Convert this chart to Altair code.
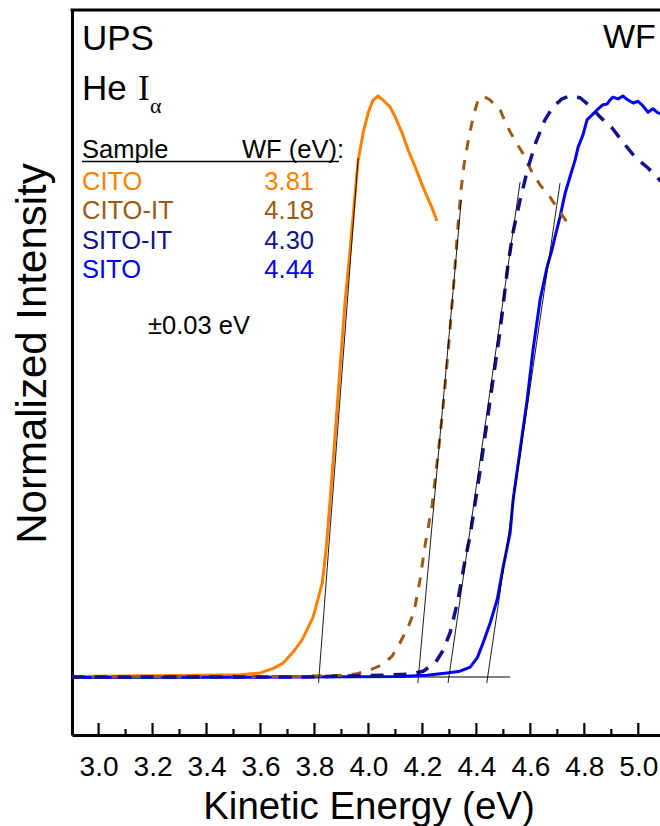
import altair as alt
import pandas as pd

# ---------------- data ----------------
cito_e = [2.90, 3.191, 3.377, 3.525, 3.599, 3.647, 3.684, 3.721, 3.754, 3.795, 3.829, 3.843,
          3.858, 3.877, 3.895, 3.914, 3.932, 3.943, 3.962, 3.980, 3.999, 4.017, 4.036, 4.054,
          4.080, 4.099, 4.125, 4.147, 4.173, 4.199, 4.218, 4.236, 4.254]
cito_i = [0.001, 0.002, 0.003, 0.004, 0.007, 0.015, 0.024, 0.043, 0.064, 0.103, 0.162, 0.219,
          0.305, 0.420, 0.534, 0.649, 0.735, 0.792, 0.890, 0.936, 0.971, 0.993, 1.000, 0.993,
          0.981, 0.964, 0.936, 0.907, 0.878, 0.847, 0.826, 0.807, 0.785]

citoit_e = [2.90, 3.747, 3.895, 3.951, 4.006, 4.051, 4.088, 4.117, 4.147, 4.169, 4.191, 4.210,
            4.236, 4.251, 4.266, 4.280, 4.299, 4.317, 4.332, 4.343, 4.354, 4.369, 4.388, 4.406,
            4.425, 4.451, 4.488, 4.514, 4.543, 4.569, 4.606, 4.636, 4.673, 4.710, 4.747]
citoit_i = [0.000, 0.001, 0.003, 0.005, 0.012, 0.021, 0.036, 0.059, 0.086, 0.112, 0.167, 0.227,
            0.296, 0.356, 0.417, 0.482, 0.580, 0.683, 0.778, 0.838, 0.881, 0.921, 0.964, 0.993,
            1.000, 0.993, 0.976, 0.948, 0.923, 0.904, 0.869, 0.847, 0.826, 0.800, 0.775]

sitoit_e = [2.90, 3.747, 4.043, 4.154, 4.203, 4.247, 4.277, 4.303, 4.332, 4.358, 4.377, 4.414,
            4.451, 4.488, 4.517, 4.536, 4.562, 4.591, 4.621, 4.654, 4.684, 4.717, 4.747, 4.784,
            4.821, 4.858, 4.903, 4.951, 4.988, 5.036, 5.080, 5.125]
sitoit_i = [0.000, 0.000, 0.003, 0.005, 0.010, 0.024, 0.046, 0.077, 0.133, 0.201, 0.244, 0.356,
            0.477, 0.597, 0.709, 0.766, 0.821, 0.876, 0.921, 0.959, 0.981, 0.995, 1.000, 0.997,
            0.983, 0.964, 0.945, 0.916, 0.895, 0.876, 0.855, 0.835]

sito_e = [2.90, 3.747, 4.117, 4.217, 4.291, 4.339, 4.377, 4.403, 4.425, 4.451, 4.477, 4.499,
          4.525, 4.536, 4.562, 4.588, 4.610, 4.636, 4.662, 4.680, 4.691, 4.710, 4.729, 4.747,
          4.766, 4.777, 4.795, 4.810, 4.828, 4.847, 4.869, 4.884, 4.895, 4.906, 4.925, 4.943,
          4.962, 4.981, 4.999, 5.017, 5.036, 5.054, 5.073, 5.099]
sito_i = [-0.001, 0.000, 0.001, 0.003, 0.007, 0.010, 0.017, 0.033, 0.059, 0.093, 0.133, 0.189,
          0.248, 0.305, 0.391, 0.477, 0.563, 0.649, 0.706, 0.735, 0.757, 0.792, 0.833, 0.861,
          0.890, 0.912, 0.933, 0.959, 0.967, 0.976, 0.985, 0.986, 0.993, 0.998, 0.995, 1.000,
          0.993, 0.988, 0.991, 0.983, 0.972, 0.978, 0.971, 0.967]

samples = ["CITO", "CITO-IT", "SITO-IT", "SITO"]
wf_labels = ["3.81", "4.18", "4.30", "4.44"]
sample_colors = ["#FF8000", "#9C5A14", "#12128C", "#0000FF"]

# linear fits of the leading edge (start and end points)
tan_e0 = [3.815, 4.183, 4.295, 4.4385]
tan_i0 = [-0.0103, -0.0103, -0.0103, -0.0103]
tan_e1 = [3.962, 4.344, 4.562, 4.710]
tan_i1 = [0.893, 0.821, 0.852, 0.850]

baseline_e = [2.90, 4.525]
baseline_i = [0.0, 0.0]

major_ticks = [3.0, 3.2, 3.4, 3.6, 3.8, 4.0, 4.2, 4.4, 4.6, 4.8, 5.0]
minor_ticks = [3.1, 3.3, 3.5, 3.7, 3.9, 4.1, 4.3, 4.5, 4.7, 4.9]

x_domain = [2.9015, 5.0804]
y_domain = [-0.0998, 1.148]

# ---------------- build ----------------
W, H = 588, 725
SANS = "Liberation Sans"
SERIF = "Liberation Serif"

xs = alt.Scale(domain=x_domain, nice=False, zero=False)
ys = alt.Scale(domain=y_domain, nice=False, zero=False)

xax = alt.Axis(values=major_ticks, format=".1f", ticks=False, tickSize=0, grid=False,
               domain=True, domainColor="black", domainWidth=3,
               labelFont=SANS, labelFontSize=28, labelColor="black",
               labelPadding=40, labelBaseline="alphabetic", labelFlush=False, labelOverlap=False,
               title="Kinetic Energy (eV)", titleFont=SANS, titleFontSize=38.5,
               titleFontWeight="normal", titleColor="black",
               titleX=296.5, titleY=83, titleBaseline="alphabetic", titleAlign="center")
yax = alt.Axis(labels=False, ticks=False, tickSize=0, grid=False,
               domain=True, domainColor="black", domainWidth=3,
               title="Normalized Intensity", titleFont=SANS, titleFontSize=42,
               titleFontWeight="normal", titleColor="black", titleAngle=270,
               titleX=-27, titleY=343, titleBaseline="alphabetic", titleAlign="center")

def curve(e, i):
    return pd.DataFrame({"E": e, "I": i})

def line_layer(df, color, dash=None, width=3):
    kw = dict(color=color, strokeWidth=width, clip=True, strokeCap="butt", strokeJoin="round")
    if dash:
        kw["strokeDash"] = dash
    return alt.Chart(df).mark_line(**kw).encode(
        x=alt.X("E:Q", scale=xs, axis=xax),
        y=alt.Y("I:Q", scale=ys, axis=yax),
    )

# baseline rule
base_df = pd.DataFrame({"E": baseline_e, "I": baseline_i})
base_layer = alt.Chart(base_df).mark_line(color="black", strokeWidth=1).encode(
    x=alt.X("E:Q", scale=xs, axis=xax), y=alt.Y("I:Q", scale=ys, axis=yax))

# tangents
tan_rows = []
for s, e0, i0, e1, i1 in zip(samples, tan_e0, tan_i0, tan_e1, tan_i1):
    tan_rows.append({"s": s, "E": e0, "I": i0, "k": 0})
    tan_rows.append({"s": s, "E": e1, "I": i1, "k": 1})
tan_df = pd.DataFrame(tan_rows)
tan_layer = alt.Chart(tan_df).mark_line(color="black", strokeWidth=0.9).encode(
    x=alt.X("E:Q", scale=xs, axis=xax), y=alt.Y("I:Q", scale=ys, axis=yax),
    detail="s:N", order="k:O")

orange = line_layer(curve(cito_e, cito_i), sample_colors[0])
blue = line_layer(curve(sito_e, sito_i), sample_colors[3])
brown = line_layer(curve(citoit_e, citoit_i), sample_colors[1], dash=[10, 10])
navy = line_layer(curve(sitoit_e, sitoit_i), sample_colors[2], dash=[13, 10], width=3.5)

# inward ticks
maj_df = pd.DataFrame({"E": major_ticks})
min_df = pd.DataFrame({"E": minor_ticks})
maj_layer = alt.Chart(maj_df).mark_rule(color="black", strokeWidth=2.2).encode(
    x=alt.X("E:Q", scale=xs, axis=xax), y=alt.value(H), y2=alt.value(H - 12))
min_layer = alt.Chart(min_df).mark_rule(color="black", strokeWidth=2.2).encode(
    x=alt.X("E:Q", scale=xs, axis=xax), y=alt.value(H), y2=alt.value(H - 6))

# top border
top_border = alt.Chart(pd.DataFrame({"a": [0]})).mark_rule(color="black", strokeWidth=3).encode(
    x=alt.value(-1.5), x2=alt.value(W + 5), y=alt.value(0))

def txt(text, x, y, size, color="black", font=SANS, align="left"):
    return alt.Chart(pd.DataFrame({"t": [text]})).mark_text(
        font=font, fontSize=size, color=color, align=align, baseline="alphabetic"
    ).encode(text="t:N", x=alt.value(x), y=alt.value(y))

LEG = 25.5
texts = [
    txt("UPS", 10, 40, 35),
    txt("WF", 531, 38, 34),
    txt("He", 10, 90, 35),
    txt("I", 66, 90, 35, font=SERIF),
    txt("α", 78, 103, 22, font=SERIF),
    txt("Sample", 10, 147.5, LEG),
    txt("WF (eV):", 170, 147.5, LEG),
    txt("±0.03 eV", 76, 324, LEG),
]
row_y = [179.5, 209, 238.5, 267.5]
for s, w, c, yy in zip(samples, wf_labels, sample_colors, row_y):
    texts.append(txt(s, 10, yy, LEG, color=c))
    texts.append(txt(w, 242, yy, LEG, color=c, align="right"))

underline = alt.Chart(pd.DataFrame({"a": [0]})).mark_rule(color="black", strokeWidth=1.5).encode(
    x=alt.value(10), x2=alt.value(267), y=alt.value(151.5))

chart = alt.layer(
    base_layer, orange, blue, brown, navy, tan_layer,
    maj_layer, min_layer, top_border, underline, *texts
).properties(
    width=W, height=H,
    autosize=alt.AutoSizeParams(type="none"),
    padding={"left": 72, "top": 10, "right": 0, "bottom": 91},
    background="white",
).configure_view(stroke=None)

chart.save("out.html", embed_options={"renderer": "svg", "actions": False})
